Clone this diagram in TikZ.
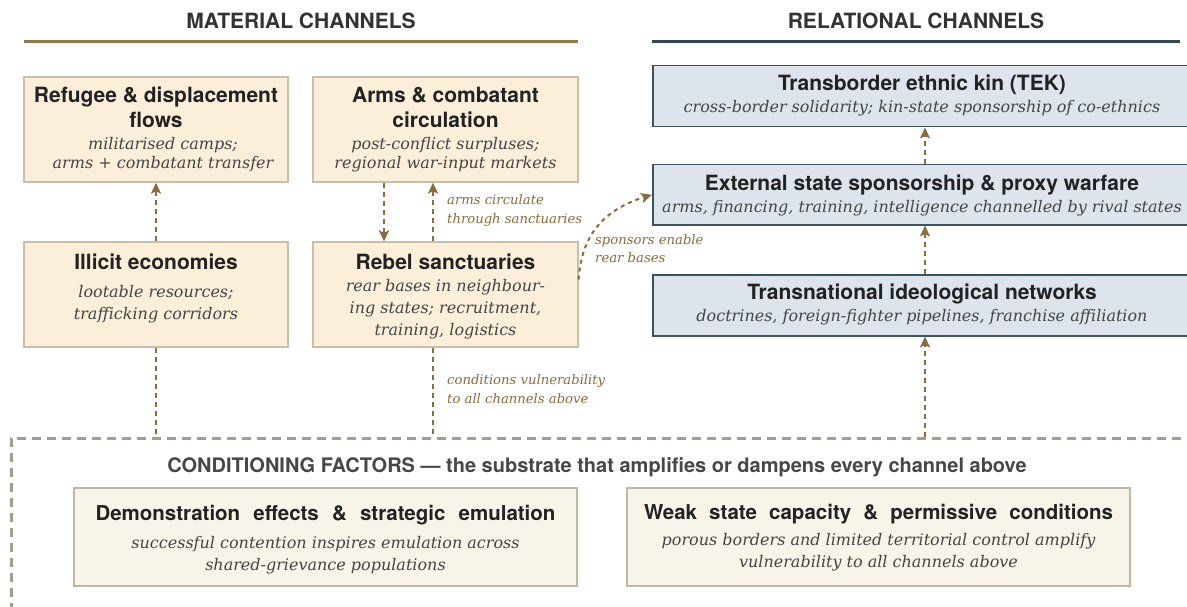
\documentclass[tikz,border=0pt]{standalone}
\usepackage{fontspec}
\setmainfont{TeX Gyre Heros}
\newfontfamily\hv{TeX Gyre Heros}
\newfontfamily\dsf{DejaVu Serif}
\usetikzlibrary{arrows.meta}
\definecolor{matfill}{RGB}{252,239,218}
\definecolor{matborder}{RGB}{200,191,168}
\definecolor{relfill}{RGB}{221,228,236}
\definecolor{relborder}{RGB}{58,84,100}
\definecolor{condfill}{RGB}{248,244,233}
\definecolor{condborder}{RGB}{190,185,166}
\definecolor{framecol}{RGB}{162,159,138}
\definecolor{flowcol}{RGB}{140,107,60}
\definecolor{matline}{RGB}{154,118,72}
\definecolor{relline}{RGB}{47,74,90}
\definecolor{titlecol}{RGB}{34,34,34}
\definecolor{desccol}{RGB}{68,68,68}
\definecolor{headcol}{RGB}{51,51,51}
\tikzset{
  matbox/.style={draw=matborder, fill=matfill, line width=1.3pt, inner sep=0pt},
  relbox/.style={draw=relborder, fill=relfill, line width=1.5pt, inner sep=0pt},
  condbox/.style={draw=condborder, fill=condfill, line width=1.3pt, inner sep=0pt},
  frame/.style={draw=framecol, line width=2.5pt, dash pattern=on 9pt off 6pt, inner sep=0pt},
  ttl/.style={font=\hv\bfseries\fontsize{21}{25}\selectfont, text=titlecol, align=center, inner sep=0pt},
  bttl/.style={font=\hv\bfseries\fontsize{20.5}{24}\selectfont, text=titlecol, align=center, inner sep=0pt},
  dsc/.style={font=\dsf\itshape\fontsize{16}{22}\selectfont, text=desccol, align=center, inner sep=0pt},
  dsct/.style={font=\dsf\itshape\fontsize{16}{19}\selectfont, text=desccol, align=center, inner sep=0pt},
  lbl/.style={font=\dsf\itshape\fontsize{13.2}{18.5}\selectfont, text=flowcol, align=left, anchor=west, inner sep=0pt},
  head/.style={font=\hv\bfseries\fontsize{21}{24}\selectfont, text=headcol, inner sep=0pt},
  chead/.style={font=\hv\bfseries\fontsize{20}{24}\selectfont, text=headcol!90!white, inner sep=0pt},
  flow/.style={draw=flowcol, line width=2pt, dash pattern=on 5pt off 4pt,
    -{Stealth[length=11pt,width=10pt,inset=2.5pt]}},
  link/.style={draw=flowcol, line width=2pt, dash pattern=on 5pt off 4pt},
  curveflow/.style={draw=flowcol, line width=2pt, dash pattern=on 4pt off 4pt,
    -{Stealth[length=11pt,width=10pt,inset=2.5pt]}},
}
\begin{document}
\begin{tikzpicture}[x=1pt,y=-1pt]
\useasboundingbox[fill=white] (0,0) rectangle (1187,607);

% headings
\node[head] (hmat) at (301,21) {MATERIAL CHANNELS};
\node[head] (hrel) at (916,21) {RELATIONAL CHANNELS};
\draw[matline, line width=3.5pt] (24,41.5) -- (578,41.5);
\draw[relline, line width=3.5pt] (652,41.5) -- (1180,41.5);

% conditioning frame
\node[frame, minimum width=1210pt, minimum height=220pt, anchor=north west] (cond) at (10,437) {};

% material boxes
\node[matbox, minimum width=264pt, minimum height=105pt] (ref) at (156,129.5) {};
\node[ttl] (refT) at (156,107) {Refugee \& displacement\\flows};
\node[dsct] (refD) at (163,155) {militarised camps;\\arms + combatant transfer};

\node[matbox, minimum width=265pt, minimum height=105pt] (arms) at (445.5,129.5) {};
\node[ttl] (armsT) at (445.5,107) {Arms \& combatant\\circulation};
\node[dsct] (armsD) at (445.5,155) {post-conflict surpluses;\\regional war-input markets};

\node[matbox, minimum width=264pt, minimum height=105pt] (ill) at (156,294.5) {};
\node[ttl] (illT) at (156,262) {Illicit economies};
\node[dsc] (illD) at (156,304) {lootable resources;\\trafficking corridors};

\node[matbox, minimum width=265pt, minimum height=105pt] (reb) at (445.5,294.5) {};
\node[ttl] (rebT) at (445.5,262) {Rebel sanctuaries};
\node[dsc] (rebD) at (445.5,309) {rear bases in neighbour-\\ing states; recruitment,\\training, logistics};

% relational boxes
\node[relbox, minimum width=544pt, minimum height=61pt, anchor=north west] (tek) at (652,65) {};
\node[ttl] (tekT) at (922,85) {Transborder ethnic kin (TEK)};
\node[dsc] (tekD) at (922,108) {cross-border solidarity; kin-state sponsorship of co-ethnics};

\node[relbox, minimum width=544pt, minimum height=60pt, anchor=north west] (ext) at (652,164) {};
\node[ttl] (extT) at (922,185) {External state sponsorship \& proxy warfare};
\node[dsc] (extD) at (922,208) {arms, financing, training, intelligence channelled by rival states};

\node[relbox, minimum width=544pt, minimum height=61pt, anchor=north west] (trans) at (652,274) {};
\node[ttl] (transT) at (922,294) {Transnational ideological networks};
\node[dsc] (transD) at (922,317) {doctrines, foreign-fighter pipelines, franchise affiliation};

% conditioning
\node[chead] (condH) at (597,467) {CONDITIONING FACTORS — the substrate that amplifies or dampens every channel above};
\node[condbox, minimum width=503pt, minimum height=98pt] (demo) at (325.5,537) {};
\node[bttl] (demoT) at (325.5,515) {\makebox[460pt][s]{Demonstration effects \& strategic emulation}};
\node[dsc] (demoD) at (325.5,555) {successful contention inspires emulation across\\shared-grievance populations};

\node[condbox, minimum width=503pt, minimum height=98pt] (weak) at (878.5,537) {};
\node[bttl] (weakT) at (878.5,514) {\makebox[469pt][s]{Weak state capacity \& permissive conditions}};
\node[dsc] (weakD) at (878.5,552) {porous borders and limited territorial control amplify\\vulnerability to all channels above};

% connector columns
\coordinate (c1) at (384,0);
\coordinate (c2) at (433,0);
\coordinate (c3) at (925,0);

% material connectors
\draw[flow] (ill.north) -- (ref.south);
\draw[flow] (arms.south -| c1) -- (reb.north -| c1);
\draw[flow] (reb.north -| c2) -- (arms.south -| c2);
\draw[link] (ill.south) -- (ill.south |- cond.north);
\draw[link] (reb.south -| c2) -- (cond.north -| c2);

% relational connectors
\draw[flow] (cond.north -| c3) -- (trans.south -| c3);
\draw[flow] (trans.north -| c3) -- (ext.south -| c3);
\draw[flow] (ext.north -| c3) -- (tek.south -| c3);

% curved connector
\coordinate (cs) at ([yshift=15pt]reb.east);
\draw[curveflow] (cs) .. controls +(3,-50) and +(-42,13) .. (ext.west);

% labels
\node[lbl] (l1) at (447,210.5) {arms circulate\\through sanctuaries};
\node[lbl] (l2) at (595,248.5) {sponsors enable\\rear bases};
\node[lbl] (l3) at (447,389) {conditions vulnerability\\to all channels above};
\end{tikzpicture}
\end{document}
